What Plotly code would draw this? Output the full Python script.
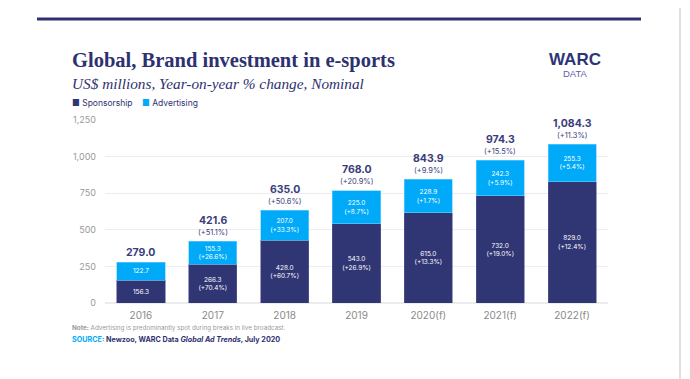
import plotly.graph_objects as go

years = ["2016", "2017", "2018", "2019", "2020(f)", "2021(f)", "2022(f)"]
sponsorship = [156.3, 266.3, 428.0, 543.0, 615.0, 732.0, 829.0]
sponsorship_pct = ["", "+70.4%", "+60.7%", "+26.9%", "+13.3%", "+19.0%", "+12.4%"]
advertising = [122.7, 155.3, 207.0, 225.0, 228.9, 242.3, 255.3]
advertising_pct = ["", "+26.6%", "+33.3%", "+8.7%", "+1.7%", "+5.9%", "+5.4%"]
totals = [279.0, 421.6, 635.0, 768.0, 843.9, 974.3, 1084.3]
totals_pct = ["", "+51.1%", "+50.6%", "+20.9%", "+9.9%", "+15.5%", "+11.3%"]

NAVY = "#303574"
BLUE = "#00aaf9"
OFF = 8  # page body margin
W, H = 690 - OFF, 379 - OFF
L = 105 - OFF
R = W - (608 - OFF)
T = 120 - OFF
B = H - (303 - OFF)

xpos = list(range(len(years)))


def lbl(v, p):
    s = f"{v:,.1f}"
    return s + (f"<br>({p})" if p else "")


fig = go.Figure()
fig.add_bar(x=xpos, y=sponsorship, name="Sponsorship", marker_color=NAVY,
            marker_line=dict(color="#5a5f9a", width=0.6),
            text=[lbl(v, p) for v, p in zip(sponsorship, sponsorship_pct)],
            textposition="inside", insidetextanchor="middle", textangle=0,
            textfont=dict(color="white", size=7, family="Inter"))
fig.add_bar(x=xpos, y=advertising, name="Advertising", marker_color=BLUE,
            marker_line=dict(color="#6fd0ff", width=0.6),
            text=[lbl(v, p) for v, p in zip(advertising, advertising_pct)],
            textposition="inside", insidetextanchor="middle", textangle=0,
            textfont=dict(color="white", size=7, family="Inter"))

for x, t, p in zip(xpos, totals, totals_pct):
    if p:
        fig.add_annotation(x=x, y=t, xref="x", yref="y", text=f"({p})", showarrow=False,
                           yanchor="middle", yshift=9, borderpad=0,
                           font=dict(color="#3a3d7c", family="Inter", size=7.5))
        vshift = 21
    else:
        vshift = 10
    fig.add_annotation(x=x, y=t, xref="x", yref="y", text=f"<b>{t:,.1f}</b>", showarrow=False,
                       yanchor="middle", yshift=vshift, borderpad=0,
                       font=dict(color="#3a3d7c", family="Inter", size=10.5))

fig.update_layout(
    width=W, height=H, barmode="stack", bargap=0.33,
    margin=dict(l=L, r=R, t=T, b=B),
    paper_bgcolor="white", plot_bgcolor="white", showlegend=False,
    uniformtext=dict(minsize=6, mode="show"),
    xaxis=dict(range=[-0.5, 6.5], tickvals=xpos, ticktext=years,
               tickfont=dict(color="#8a8a8a", size=10, family="Inter"),
               showgrid=False, showline=False, zeroline=False, ticks="",
               ticklabelstandoff=5),
    yaxis=dict(range=[0, 1250], tickvals=[0, 250, 500, 750, 1000, 1250],
               ticktext=["0", "250", "500", "750", "1,000", "1,250"],
               tickfont=dict(color="#9a9a9a", size=9, family="Inter"),
               gridcolor="#ececec", gridwidth=1, zeroline=True,
               zerolinecolor="#ececec", ticklabelstandoff=8),
)


def paper_x(xp):
    return (xp - OFF - L) / (W - L - R)


def paper_y(yp):
    return (H - B - (yp - OFF)) / (H - T - B)


ann = fig.add_annotation
ann(xref="paper", yref="paper", x=paper_x(70), y=paper_y(60), xanchor="left", yanchor="middle",
    text="<b>Global, Brand investment in e-sports</b>", showarrow=False,
    font=dict(family="Liberation Serif", size=20.5, color="#2e3170"))
ann(xref="paper", yref="paper", x=paper_x(70), y=paper_y(83), xanchor="left", yanchor="middle",
    text="<i>US$ millions, Year-on-year % change, Nominal</i>", showarrow=False,
    font=dict(family="Liberation Serif", size=15.3, color="#2e3170"))
ann(xref="paper", yref="paper", x=paper_x(70), y=paper_y(103), xanchor="left", yanchor="middle",
    text=f"<span style='color:{NAVY}'>■</span> Sponsorship    <span style='color:{BLUE}'>■</span> Advertising",
    showarrow=False, font=dict(family="Inter", size=8.5, color="#2e3170"))
ann(xref="paper", yref="paper", x=paper_x(575), y=paper_y(64), xanchor="center", yanchor="middle",
    text="<b><span style='font-size:17px;color:#2e3576'>WARC</span></b><br>DATA",
    showarrow=False, align="center", borderpad=0,
    font=dict(family="Liberation Sans", size=9.5, color="#5b62a8"))
ann(xref="paper", yref="paper", x=paper_x(70), y=paper_y(328), xanchor="left", yanchor="middle",
    text="<b>Note:</b> Advertising is predominantly spot during breaks in live broadcast.",
    showarrow=False, font=dict(family="Inter", size=6.3, color="#9a9a9a"))
ann(xref="paper", yref="paper", x=paper_x(70), y=paper_y(339), xanchor="left", yanchor="middle",
    text=f"<b><span style='color:{BLUE}'>SOURCE:</span> Newzoo, WARC Data <i>Global Ad Trends</i>, July 2020</b>",
    showarrow=False, font=dict(family="Inter", size=7.2, color="#2e3170"))

fig.add_shape(type="line", xref="paper", yref="paper", x0=paper_x(37), x1=paper_x(641),
              y0=paper_y(19), y1=paper_y(19), line=dict(color="#2e3172", width=3))
fig.add_shape(type="line", xref="paper", yref="paper", x0=paper_x(680), x1=paper_x(680),
              y0=paper_y(OFF), y1=paper_y(379), line=dict(color="#d6d6d6", width=1.5))

fig.write_html("out.html")
